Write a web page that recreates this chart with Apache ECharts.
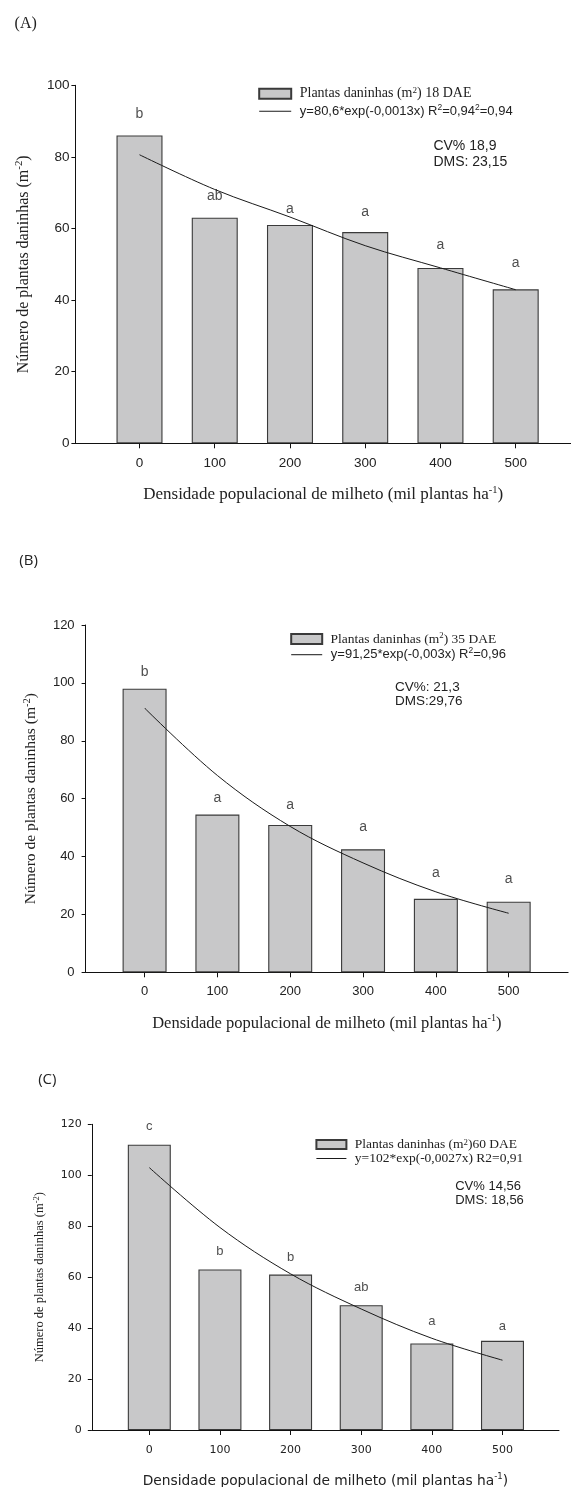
<!DOCTYPE html>
<html><head><meta charset="utf-8">
<script src="https://cdn.jsdelivr.net/npm/echarts@6/dist/echarts.min.js"></script>
<style>html,body{margin:0;padding:0;background:#fff}#c{width:571px;height:1487px}</style>
</head><body><div id="c"></div>
<script>
// ---- data ----
const xValues = [0, 100, 200, 300, 400, 500];
const yTicksA = [0, 20, 40, 60, 80, 100];
const yTicksBC = [0, 20, 40, 60, 80, 100, 120];

const barA = [86, 63, 61, 59, 49, 43];
const curveA = [80.6, 70.9, 63.2, 55.2, 49.0, 42.9];
const lettersA = ['b', 'ab', 'a', 'a', 'a', 'a'];
const letterYA = [92.0, 69.0, 65.5, 64.6, 55.3, 50.3];

const barB = [98, 54.5, 50.9, 42.5, 25.4, 24.4];
const curveB = [91.3, 68.0, 50.4, 37.8, 27.8, 20.4];
const lettersB = ['b', 'a', 'a', 'a', 'a', 'a'];
const letterYB = [103.7, 60.3, 57.7, 50.1, 34.4, 32.1];

const barC = [112, 63, 61, 49, 34, 35];
const curveC = [103, 79.5, 61.3, 47.5, 36, 27.4];
const lettersC = ['c', 'b', 'b', 'ab', 'a', 'a'];
const letterYC = [119.2, 70.2, 67.6, 56.1, 42.7, 40.8];

const SERIF = 'Liberation Serif', SANS = 'Liberation Sans', DJV = 'DejaVu Sans';
const INK = '#222';
const LINE_ICON = 'path://M0,4.5 L30,4.5 L30,5.5 L0,5.5 Z';

// ---- layout per panel ----
const panels = [
  { id: 'A', bar: barA, curve: curveA, letters: lettersA, letterY: letterYA, yTicks: yTicksA,
    grid: { left: 75.4, top: 85.3, width: 495.6, height: 358 }, xMin: -85.2, xMax: 573.5, barWidth: 46,
    tickFont: SANS, tickSize: 13.5, yMargin: 6, xMargin: 13,
    yName: { font: SERIF, size: 16, lh: 20, gap: 41.7 },
    xName: { font: SERIF, size: 17, lh: 21, gap: 41.2 },
    letterSize: 14,
    legend: { left: 258.2, top: 85.7, gap: 2.6, lh: 16, iw: 32, ih: 10,
      bar: '{s| Plantas daninhas (m}{ss|2}{s|) 18 DAE}',
      fit: '{a| y=80,6*exp(-0,0013x) R}{as|2}{a|=0,94}{as|2}{a|=0,94}',
      sSize: 14, aSize: 13, aFont: SANS },
    cv: { text: 'CV% 18,9\nDMS: 23,15', left: 433.4, top: 137.7, size: 14, lh: 16 },
    label: { text: '(A)', left: 14.6, top: 15.3, font: SERIF, size: 16 } },
  { id: 'B', bar: barB, curve: curveB, letters: lettersB, letterY: letterYB, yTicks: yTicksBC,
    grid: { left: 85.6, top: 625, width: 482.5, height: 347.3 }, xMin: -81.0, xMax: 581.6, barWidth: 44,
    tickFont: SANS, tickSize: 13, yMargin: 11, xMargin: 13,
    yName: { font: SERIF, size: 15.5, lh: 19, gap: 45.1 },
    xName: { font: SERIF, size: 16.5, lh: 20, gap: 41 },
    letterSize: 14,
    legend: { left: 290.2, top: 631, gap: 0.7, lh: 16, iw: 31, ih: 10,
      bar: '{s| Plantas daninhas (m}{ss|2}{s|) 35 DAE}',
      fit: '{a| y=91,25*exp(-0,003x) R}{as|2}{a|=0,96}',
      sSize: 13.5, aSize: 13, aFont: SANS },
    cv: { text: 'CV%: 21,3\nDMS:29,76', left: 395.1, top: 680.7, size: 13.5, lh: 14 },
    label: { text: '(B)', left: 19.3, top: 553, font: 'Open Sans', size: 15 } },
  { id: 'C', bar: barC, curve: curveC, letters: lettersC, letterY: letterYC, yTicks: yTicksBC,
    grid: { left: 91.8, top: 1124.3, width: 467.2, height: 305.7 }, xMin: -81.4, xMax: 580, barWidth: 43,
    tickFont: DJV, tickSize: 11, yMargin: 10, xMargin: 14.5,
    yName: { font: SERIF, size: 12.5, lh: 16, gap: 43.8 },
    xName: { font: DJV, size: 13.8, lh: 17, gap: 42.5 },
    letterSize: 13,
    legend: { left: 315.4, top: 1137.5, gap: 0, lh: 13.5, iw: 30, ih: 9,
      bar: '{s| Plantas daninhas (m}{ss|2}{s|)60 DAE}',
      fit: '{a| y=102*exp(-0,0027x) R2=0,91}',
      sSize: 13.5, aSize: 13.5, aFont: SERIF },
    cv: { text: 'CV% 14,56\nDMS: 18,56', left: 455.2, top: 1179, size: 13, lh: 14 },
    label: { text: '(C)', left: 38.2, top: 1072, font: 'Open Sans', size: 15 } }
];

const grid = [], xAxis = [], yAxis = [], series = [], legend = [], graphic = [];

panels.forEach((p, i) => {
  grid.push(Object.assign({ containLabel: false, outerBoundsMode: 'none' }, p.grid));
  const yRich = {
    n: { fontFamily: p.yName.font, fontSize: p.yName.size, lineHeight: p.yName.lh, color: INK },
    p: { fontFamily: p.yName.font, fontSize: p.yName.size * 0.68, lineHeight: p.yName.size * 0.68, verticalAlign: 'top', color: INK }
  };
  const xRich = {
    n: { fontFamily: p.xName.font, fontSize: p.xName.size, lineHeight: p.xName.lh, color: INK },
    p: { fontFamily: p.xName.font, fontSize: p.xName.size * 0.62, lineHeight: p.xName.size * 0.62, verticalAlign: 'top', color: INK }
  };
  xAxis.push({
    type: 'value', gridIndex: i, min: p.xMin, max: p.xMax,
    name: '{n|Densidade populacional de milheto (mil plantas ha}{p|-1}{n|)}',
    nameLocation: 'middle', nameGap: p.xName.gap, nameTextStyle: { rich: xRich },
    splitLine: { show: false },
    axisLine: { show: true, onZero: false, lineStyle: { color: '#111', width: 1 } },
    axisTick: { show: true, length: 5, customValues: xValues, lineStyle: { color: '#111' } },
    axisLabel: { show: true, customValues: xValues, margin: p.xMargin, fontFamily: p.tickFont, fontSize: p.tickSize, color: INK }
  });
  const yMax = p.yTicks[p.yTicks.length - 1];
  yAxis.push({
    type: 'value', gridIndex: i, min: p.yTicks[0], max: yMax, interval: p.yTicks[1] - p.yTicks[0],
    name: '{n|Número de plantas daninhas (m}{p|-2}{n|)}',
    nameLocation: 'middle', nameRotate: 90, nameGap: p.yName.gap, nameTextStyle: { rich: yRich },
    splitLine: { show: false },
    axisLine: { show: true, onZero: false, lineStyle: { color: '#111', width: 1 } },
    axisTick: { show: true, length: 4, lineStyle: { color: '#111' } },
    axisLabel: { show: true, margin: p.yMargin, fontFamily: p.tickFont, fontSize: p.tickSize, color: INK }
  });
  const barName = p.id + '_bar', fitName = p.id + '_fit';
  series.push({
    type: 'bar', name: barName, xAxisIndex: i, yAxisIndex: i, barWidth: p.barWidth,
    data: xValues.map((x, j) => [x, p.bar[j]]),
    itemStyle: { color: '#c8c8c9', borderColor: '#3a3a3a', borderWidth: 1.1 },
    z: 2
  });
  series.push({
    type: 'line', name: fitName, xAxisIndex: i, yAxisIndex: i, smooth: 0.35, symbol: 'none',
    data: xValues.map((x, j) => [x, p.curve[j]]),
    lineStyle: { color: '#1a1a1a', width: 1 }, itemStyle: { color: '#1a1a1a' }, z: 3
  });
  series.push({
    type: 'scatter', name: p.id + '_letters', xAxisIndex: i, yAxisIndex: i, symbolSize: 0,
    data: xValues.map((x, j) => ({ value: [x, p.letterY[j]], label: { formatter: p.letters[j] } })),
    label: { show: true, position: [0, 0], align: 'center', verticalAlign: 'middle',
      fontFamily: SANS, fontSize: p.letterSize, color: INK },
    z: 4
  });
  const L = p.legend;
  const fmt = {}; fmt[barName] = L.bar; fmt[fitName] = L.fit;
  legend.push({
    orient: 'vertical', left: L.left, top: L.top, itemGap: L.gap, itemWidth: L.iw, itemHeight: L.ih,
    padding: 0, selectedMode: false,
    data: [{ name: barName, icon: 'rect' }, { name: fitName, icon: LINE_ICON, itemStyle: { color: '#1a1a1a', borderWidth: 0 } }],
    formatter: (name) => fmt[name],
    textStyle: {
      rich: {
        s: { fontFamily: SERIF, fontSize: L.sSize, lineHeight: L.lh, color: INK },
        ss: { fontFamily: SERIF, fontSize: L.sSize * 0.65, lineHeight: L.sSize * 0.65, verticalAlign: 'top', color: INK },
        a: { fontFamily: L.aFont, fontSize: L.aSize, lineHeight: L.lh, color: INK },
        as: { fontFamily: L.aFont, fontSize: L.aSize * 0.65, lineHeight: L.aSize * 0.65, verticalAlign: 'top', color: INK }
      }
    }
  });
  graphic.push({
    type: 'text', left: p.cv.left, top: p.cv.top,
    style: { text: p.cv.text, fontFamily: SANS, fontSize: p.cv.size, lineHeight: p.cv.lh, fill: INK }
  });
  graphic.push({
    type: 'text', left: p.label.left, top: p.label.top,
    style: { text: p.label.text, fontFamily: p.label.font, fontSize: p.label.size, lineHeight: 16, fill: INK }
  });
});

const chart = echarts.init(document.getElementById('c'), null, { renderer: 'canvas' });
chart.setOption({
  backgroundColor: '#ffffff',
  animation: false,
  grid, xAxis, yAxis, series, legend, graphic
});
</script>
</body></html>
